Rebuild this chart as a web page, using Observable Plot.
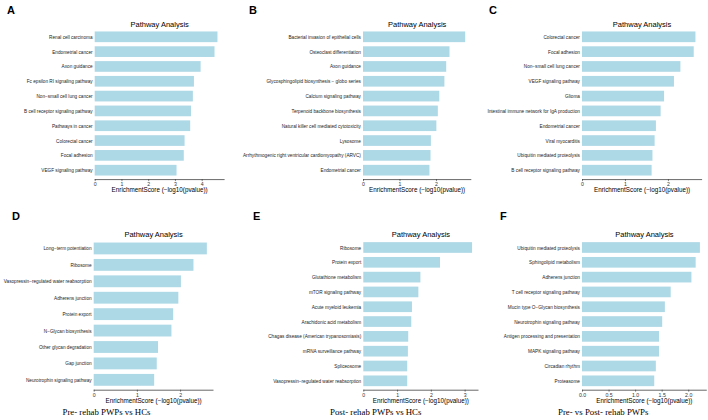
<!DOCTYPE html>
<html><head><meta charset="utf-8">
<script src="https://cdn.jsdelivr.net/npm/d3@7"></script>
<script src="https://cdn.jsdelivr.net/npm/@observablehq/plot@0.6"></script>
<style>
body{margin:0;background:#fff;}
#root{position:relative;width:708px;height:420px;overflow:hidden;font-family:"Liberation Sans",Arial,sans-serif;background:#fff;}
.cell{position:absolute;}
.cell svg{overflow:visible;max-width:none !important;}
.letter{position:absolute;font-weight:bold;font-size:11px;line-height:1;color:#000;}
.caption{position:absolute;font-family:"Liberation Serif","Times New Roman",serif;font-size:8.8px;line-height:1;white-space:nowrap;color:#000;}
</style></head><body><div id="root"></div>
<script>
const namesA = ["Renal cell carcinoma","Endometrial cancer","Axon guidance","Fc epsilon RI signaling pathway","Non−small cell lung cancer","B cell receptor signaling pathway","Pathways in cancer","Colorectal cancer","Focal adhesion","VEGF signaling pathway"];
const valuesA = [4.59,4.48,3.96,3.71,3.67,3.60,3.57,3.36,3.33,3.06];
const ticksA = [0,1,2,3,4];

const namesB = ["Bacterial invasion of epithelial cells","Osteoclast differentiation","Axon guidance","Glycosphingolipid biosynthesis − globo series","Calcium signaling pathway","Terpenoid backbone biosynthesis","Natural killer cell mediated cytotoxicity","Lysosome","Arrhythmogenic right ventricular cardiomyopathy (ARVC)","Endometrial cancer"];
const valuesB = [2.80,2.37,2.28,2.23,2.09,2.05,2.01,1.86,1.85,1.82];
const ticksB = [0,1,2];

const namesC = ["Colorectal cancer","Focal adhesion","Non−small cell lung cancer","VEGF signaling pathway","Glioma","Intestinal immune network for IgA production","Endometrial cancer","Viral myocarditis","Ubiquitin mediated proteolysis","B cell receptor signaling pathway"];
const valuesC = [2.64,2.60,2.29,2.14,1.91,1.83,1.72,1.69,1.64,1.62];
const ticksC = [0,1,2];

const namesD = ["Long−term potentiation","Ribosome","Vasopressin−regulated water reabsorption","Adherens junction","Protein export","N−Glycan biosynthesis","Other glycan degradation","Gap junction","Neurotrophin signaling pathway"];
const valuesD = [2.62,2.31,2.02,1.96,1.84,1.80,1.49,1.46,1.40];
const ticksD = [0,1,2];

const namesE = ["Ribosome","Protein export","Glutathione metabolism","mTOR signaling pathway","Acute myeloid leukemia","Arachidonic acid metabolism","Chagas disease (American trypanosomiasis)","mRNA surveillance pathway","Spliceosome","Vasopressin−regulated water reabsorption"];
const valuesE = [3.22,2.27,1.69,1.63,1.44,1.42,1.33,1.32,1.30,1.30];
const ticksE = [0,1,2,3];

const namesF = ["Ubiquitin mediated proteolysis","Sphingolipid metabolism","Adherens junction","T cell receptor signaling pathway","Mucin type O−Glycan biosynthesis","Neurotrophin signaling pathway","Antigen processing and presentation","MAPK signaling pathway","Circadian rhythm","Proteasome"];
const valuesF = [2.22,2.14,2.06,1.67,1.56,1.51,1.45,1.45,1.39,1.36];
const ticksF = [0,0.5,1,1.5,2];

const panelTitle = "Pathway Analysis";
const axisTitle = "EnrichmentScore (−log10(pvalue))";
const captions = ["Pre- rehab PWPs vs HCs","Post- rehab PWPs vs HCs","Pre- vs Post- rehab PWPs"];

const barColor = "#ADD8E6";
const root = document.getElementById("root");

const panels = [
  {letter:"A", names:namesA, values:valuesA, ticks:ticksA, fmt:d3.format("d"), left:0,   top:0,   width:236, height:200, mL:94.7,  mR:12.4, mT:27.9, mB:20.9, lx:7,   ly:5},
  {letter:"B", names:namesB, values:valuesB, ticks:ticksB, fmt:d3.format("d"), left:236, top:0,   width:236, height:200, mL:127,   mR:1.7,  mT:27.9, mB:20.9, lx:249, ly:5},
  {letter:"C", names:namesC, values:valuesC, ticks:ticksC, fmt:d3.format("d"), left:472, top:0,   width:236, height:200, mL:110,   mR:6.9,  mT:27.9, mB:20.9, lx:489, ly:5},
  {letter:"D", names:namesD, values:valuesD, ticks:ticksD, fmt:d3.format("d"), left:0,   top:200, width:236, height:205, mL:93.7,  mR:23.5, mT:38.6, mB:15.3, lx:12,  ly:211},
  {letter:"E", names:namesE, values:valuesE, ticks:ticksE, fmt:d3.format("d"), left:236, top:200, width:244, height:205, mL:127.3, mR:2.5,  mT:38.6, mB:15.3, lx:253, ly:211},
  {letter:"F", names:namesF, values:valuesF, ticks:ticksF, fmt:d3.format(".1f"), left:472, top:200, width:236, height:205, mL:110,  mR:2.2,  mT:38.6, mB:15.3, lx:500, ly:211}
];

for (const p of panels) {
  const data = p.names.map((name, i) => ({name, value: p.values[i]}));
  const xmax = d3.max(p.values) * 1.05;
  const chart = Plot.plot({
    width: p.width,
    height: p.height,
    marginLeft: p.mL,
    marginRight: p.mR,
    marginTop: p.mT,
    marginBottom: p.mB,
    style: {background: "transparent", fontFamily: "'Liberation Sans', Arial, sans-serif", fontSize: "5px", color: "#333", overflow: "visible"},
    x: {domain: [0, xmax], label: null},
    y: {domain: p.names, paddingInner: 0.28, paddingOuter: 0.24, round: false, label: null},
    marks: [
      Plot.barX(data, {x: "value", y: "name", fill: barColor}),
      Plot.frame({anchor: "bottom", stroke: "#000", strokeWidth: 0.6}),
      Plot.axisX({ticks: p.ticks, tickFormat: p.fmt, tickSize: 2, tickPadding: 0.8, fontSize: 5.2, label: null, stroke: "#333", strokeWidth: 0.6, fill: "#333"}),
      Plot.axisY({tickSize: 0, tickPadding: 2.6, fontSize: 4.7, label: null, fill: "#222"}),
      Plot.text([panelTitle], {text: d => d, frameAnchor: "top", dy: -7, fontSize: 7.5, fill: "#000"}),
      Plot.text([axisTitle], {text: d => d, frameAnchor: "bottom", dy: 12.3, fontSize: 6.3, fill: "#000"})
    ]
  });
  const cell = document.createElement("div");
  cell.className = "cell";
  cell.style.left = p.left + "px";
  cell.style.top = p.top + "px";
  cell.appendChild(chart);
  root.appendChild(cell);

  const lt = document.createElement("div");
  lt.className = "letter";
  lt.style.left = p.lx + "px";
  lt.style.top = p.ly + "px";
  lt.textContent = p.letter;
  root.appendChild(lt);
}

const capPos = [[62.5, 408], [330, 408], [558, 408]];
captions.forEach((c, i) => {
  const d = document.createElement("div");
  d.className = "caption";
  d.style.left = capPos[i][0] + "px";
  d.style.top = capPos[i][1] + "px";
  d.textContent = c;
  root.appendChild(d);
});
</script></body></html>
